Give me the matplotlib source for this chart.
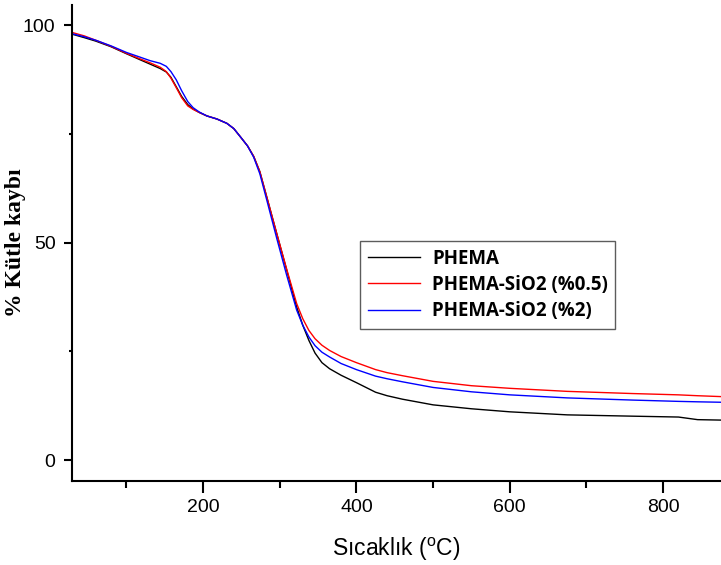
import matplotlib
matplotlib.use("Agg")
import matplotlib.pyplot as plt
from matplotlib.ticker import MultipleLocator

plt.rcParams['mathtext.fontset'] = 'custom'
plt.rcParams['mathtext.rm'] = 'Liberation Sans'
plt.rcParams['mathtext.it'] = 'Liberation Sans'

temperature = [29, 45, 60, 80, 100, 118, 131, 144, 152, 158, 165, 172, 180, 187,
               195, 205, 218, 231, 240, 250, 258, 266, 274, 283, 296, 309, 322,
               330, 338, 346, 355, 365, 380, 400, 425, 440, 460, 500, 550, 600,
               675, 760, 820, 845, 875]

phema = [97.9, 97.1, 96.3, 95.0, 93.4, 92.0, 91.0, 90.0, 89.2, 88.0, 85.8, 83.6,
         81.7, 80.7, 79.9, 79.1, 78.4, 77.4, 76.2, 74.0, 72.2, 69.8, 66.3, 60.5,
         52.1, 43.7, 35.2, 31.0, 27.5, 24.6, 22.4, 21.0, 19.5, 17.8, 15.6, 14.8,
         14.0, 12.7, 11.8, 11.1, 10.4, 10.1, 9.9, 9.3, 9.2]

phema_sio2_05 = [98.3, 97.5, 96.5, 95.1, 93.5, 92.2, 91.3, 90.3, 89.3, 87.8, 85.6,
                 83.3, 81.4, 80.6, 79.9, 79.1, 78.4, 77.4, 76.2, 74.0, 72.2, 69.8,
                 66.3, 60.5, 52.1, 43.9, 36.0, 32.5, 29.8, 27.9, 26.4, 25.2, 23.8,
                 22.4, 20.8, 20.1, 19.4, 18.1, 17.1, 16.5, 15.8, 15.3, 15.0, 14.8, 14.6]

phema_sio2_2 = [98.0, 97.3, 96.5, 95.2, 93.7, 92.6, 91.8, 91.2, 90.5, 89.3, 87.4,
                84.9, 82.4, 81.0, 80.0, 79.1, 78.4, 77.4, 76.2, 74.0, 72.2, 69.6,
                65.8, 59.8, 51.0, 42.5, 34.5, 31.0, 28.3, 26.3, 24.8, 23.7, 22.2,
                20.8, 19.3, 18.7, 18.0, 16.7, 15.7, 15.0, 14.3, 13.8, 13.5, 13.4, 13.3]

labels = ["PHEMA", "PHEMA-SiO2 (%0.5)", "PHEMA-SiO2 (%2)"]
colors = ["black", "#ff0000", "#0000ff"]

W, H = 721, 565
fig = plt.figure(figsize=(W / 100, H / 100), dpi=100)
ax = fig.add_axes([72 / W, (H - 481) / H, (W - 72) / W, (481 - 5) / H])

for ys, lab, c in zip([phema, phema_sio2_05, phema_sio2_2], labels, colors):
    ax.plot(temperature, ys, color=c, lw=1.0, label=lab)

ax.set_xlim(29, 875.5)
ax.set_ylim(-4.8, 104.6)
ax.xaxis.set_major_locator(MultipleLocator(200))
ax.xaxis.set_minor_locator(MultipleLocator(100))
ax.yaxis.set_major_locator(MultipleLocator(50))
ax.yaxis.set_minor_locator(MultipleLocator(25))

for s in ['top', 'right']:
    ax.spines[s].set_visible(False)
for s in ['left', 'bottom']:
    ax.spines[s].set_linewidth(1.5)

ax.tick_params(axis='x', which='major', direction='out', length=8.6, width=1.5, pad=4.5)
ax.tick_params(axis='x', which='minor', direction='out', length=5, width=1.5)
ax.tick_params(axis='y', which='major', direction='out', length=5.8, width=1.5, pad=6.0)
ax.tick_params(axis='y', which='minor', direction='out', length=2.5, width=1.5)
for t in ax.get_xticklabels() + ax.get_yticklabels():
    t.set_fontfamily('Liberation Sans')
    t.set_fontsize(14)

ax.set_xlabel(r'Sıcaklık ($^{\mathrm{o}}$C)', fontfamily='Liberation Sans', fontsize=16.5)
ax.xaxis.set_label_coords(0.5, -(549 - 481) / 476)
ax.xaxis.label.set_va('center')
ax.set_ylabel('% Kütle kaybı', fontfamily='Liberation Serif', fontweight='bold', fontsize=17)
ax.yaxis.set_label_coords(-(72 - 15.5) / 649, 0.5)
ax.yaxis.label.set_va('center')

leg = ax.legend(loc='upper left', bbox_to_anchor=(360 / W, 1 - 241 / H),
                bbox_transform=fig.transFigure, borderaxespad=0,
                fancybox=False, frameon=True, handlelength=2.8, handletextpad=0.64,
                labelspacing=0.34, borderpad=0.4,
                prop={'family': 'Open Sans', 'weight': 'bold', 'size': 13.5})
leg.get_frame().set_edgecolor('#333333')
leg.get_frame().set_linewidth(1.0)

fig.savefig('out.png', dpi=100)
